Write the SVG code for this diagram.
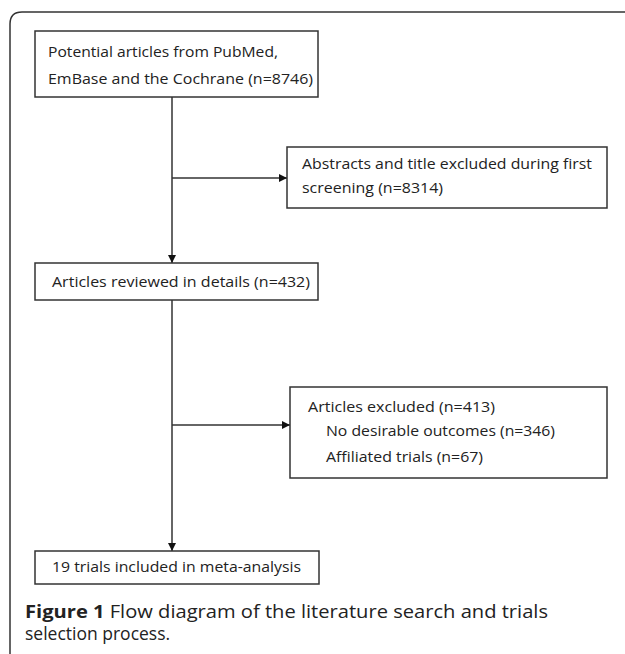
<svg xmlns="http://www.w3.org/2000/svg" width="625" height="654" viewBox="0 0 625 654">
<style>
.box{fill:#fff;stroke:#333;stroke-width:1.5}
.t{font-family:"Open Sans","Liberation Sans",sans-serif;font-size:15px;fill:#222}
.ln{fill:none;stroke:#333;stroke-width:1.5}
.cap{font-family:"Open Sans","Liberation Sans",sans-serif;font-size:17.5px;fill:#222}
</style>
<defs>
<marker id="ah" viewBox="0 0 10 10" refX="10" refY="5" markerWidth="8" markerHeight="8" markerUnits="userSpaceOnUse" orient="auto">
<path d="M0,0 L10,5 L0,10 z" fill="#111"/>
</marker>
</defs>
<rect width="625" height="654" fill="#fff"/>
<path d="M10,654 V24 Q10,12 22,12 H625" fill="none" stroke="#333" stroke-width="1.5"/>
<g id="connectors">
<path class="ln" d="M172,97 V263" marker-end="url(#ah)"/>
<path class="ln" d="M172,178 H287" marker-end="url(#ah)"/>
<path class="ln" d="M172,300 V551" marker-end="url(#ah)"/>
<path class="ln" d="M172,425 H290" marker-end="url(#ah)"/>
</g>
<g id="n1">
<rect class="box" x="35" y="31" width="283" height="66"/>
<text class="t" x="48" y="57" textLength="230" lengthAdjust="spacingAndGlyphs">Potential articles from PubMed,</text>
<text class="t" x="48" y="84" textLength="265" lengthAdjust="spacingAndGlyphs">EmBase and the Cochrane (n=8746)</text>
</g>
<g id="n2">
<rect class="box" x="287" y="147" width="320" height="61"/>
<text class="t" x="302" y="169" textLength="290" lengthAdjust="spacingAndGlyphs">Abstracts and title excluded during first</text>
<text class="t" x="302" y="193" textLength="141" lengthAdjust="spacingAndGlyphs">screening (n=8314)</text>
</g>
<g id="n3">
<rect class="box" x="35" y="263" width="283" height="37"/>
<text class="t" x="52" y="287" textLength="258" lengthAdjust="spacingAndGlyphs">Articles reviewed in details (n=432)</text>
</g>
<g id="n4">
<rect class="box" x="290" y="387" width="317" height="91"/>
<text class="t" x="308" y="412" textLength="187" lengthAdjust="spacingAndGlyphs">Articles excluded (n=413)</text>
<text class="t" x="326" y="436" textLength="229" lengthAdjust="spacingAndGlyphs">No desirable outcomes (n=346)</text>
<text class="t" x="326" y="462" textLength="157" lengthAdjust="spacingAndGlyphs">Affiliated trials (n=67)</text>
</g>
<g id="n5">
<rect class="box" x="35" y="551" width="284" height="33"/>
<text class="t" x="52" y="572" textLength="249" lengthAdjust="spacingAndGlyphs">19 trials included in meta-analysis</text>
</g>
<g id="caption">
<text class="cap" x="25" y="618" textLength="523" lengthAdjust="spacingAndGlyphs"><tspan font-weight="bold">Figure 1</tspan> Flow diagram of the literature search and trials</text>
<text class="cap" x="25" y="640">selection process.</text>
</g>
</svg>
